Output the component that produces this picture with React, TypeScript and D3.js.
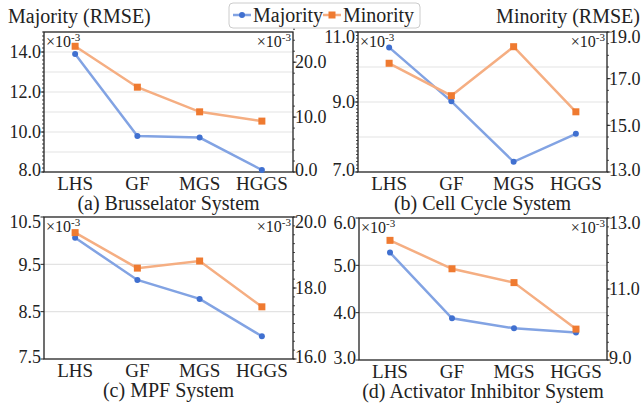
import React from "react";
import * as d3 from "d3";

const categories = ["LHS", "GF", "MGS", "HGGS"];

const brusselatorMajority = [13.9, 9.8, 9.72, 8.1];
const brusselatorMinority = [22.9, 15.45, 10.96, 9.27];
const cellCycleMajority = [10.56, 9.02, 7.29, 8.09];
const cellCycleMinority = [17.66, 16.27, 18.37, 15.58];
const mpfMajority = [10.06, 9.17, 8.77, 7.98];
const mpfMinority = [19.56, 18.56, 18.76, 17.47];
const activatorMajority = [5.27, 3.88, 3.67, 3.58];
const activatorMinority = [12.37, 11.57, 11.18, 9.87];

const brusselatorLeftTicks = [8, 10, 12, 14];
const brusselatorRightTicks = [0, 10, 20];
const brusselatorGrid = [9, 10, 11, 12, 13, 14];
const cellCycleLeftTicks = [7, 9, 11];
const cellCycleRightTicks = [13, 15, 17, 19];
const cellCycleGrid = [8, 9, 10];
const mpfLeftTicks = [7.5, 8.5, 9.5, 10.5];
const mpfRightTicks = [16, 18, 20];
const mpfGrid = [8.5, 9.5];
const activatorLeftTicks = [3, 4, 5, 6];
const activatorRightTicks = [9, 11, 13];
const activatorGrid = [4, 5];

const captions = [
  "(a) Brusselator System",
  "(b) Cell Cycle System",
  "(c) MPF System",
  "(d) Activator Inhibitor System",
];

const FONT = "Liberation Serif";
const BLUE_LINE = "#82a3e3";
const BLUE_MARK = "#4070d0";
const ORANGE_LINE = "#f5ae82";
const ORANGE_MARK = "#ef7a30";

type Panel = {
  caption: string;
  box: [number, number, number, number];
  leftDomain: [number, number];
  rightDomain: [number, number];
  leftTicks: number[];
  rightTicks: number[];
  grid: number[];
  leftMinor: number | null;
  rightMinor: number;
  majority: number[];
  minority: number[];
};

const panels: Panel[] = [
  {
    caption: captions[0],
    box: [44, 293, 32, 172],
    leftDomain: [8, 15],
    rightDomain: [0, 25.5],
    leftTicks: brusselatorLeftTicks,
    rightTicks: brusselatorRightTicks,
    grid: brusselatorGrid,
    leftMinor: 0.2,
    rightMinor: 2,
    majority: brusselatorMajority,
    minority: brusselatorMinority,
  },
  {
    caption: captions[1],
    box: [358, 607, 32, 172],
    leftDomain: [7, 11],
    rightDomain: [13, 19],
    leftTicks: cellCycleLeftTicks,
    rightTicks: cellCycleRightTicks,
    grid: cellCycleGrid,
    leftMinor: 0.1,
    rightMinor: 0.5,
    majority: cellCycleMajority,
    minority: cellCycleMinority,
  },
  {
    caption: captions[2],
    box: [44, 293, 217, 359],
    leftDomain: [7.5, 10.5],
    rightDomain: [16, 20],
    leftTicks: mpfLeftTicks,
    rightTicks: mpfRightTicks,
    grid: mpfGrid,
    leftMinor: null,
    rightMinor: 0.25,
    majority: mpfMajority,
    minority: mpfMinority,
  },
  {
    caption: captions[3],
    box: [359, 607, 218, 360],
    leftDomain: [3, 6],
    rightDomain: [9, 13],
    leftTicks: activatorLeftTicks,
    rightTicks: activatorRightTicks,
    grid: activatorGrid,
    leftMinor: null,
    rightMinor: 0.25,
    majority: activatorMajority,
    minority: activatorMinority,
  },
];

function minorTicks(domain: [number, number], step: number): number[] {
  const out: number[] = [];
  const n = Math.round((domain[1] - domain[0]) / step);
  for (let i = 0; i <= n; i++) out.push(domain[0] + i * step);
  return out;
}

function labelShift(t: number, domain: [number, number]): number {
  if (Math.abs(t - domain[1]) < 1e-9) return 5;
  if (Math.abs(t - domain[0]) < 1e-9) return -2.5;
  return 0;
}

function Sci({ x, y, anchor }: { x: number; y: number; anchor: "start" | "end" }) {
  return (
    <text x={x} y={y} textAnchor={anchor} fontFamily={FONT} fontSize={16} fill="#222">
      ×10
      <tspan fontSize={11} dy={-6}>-3</tspan>
    </text>
  );
}

function PanelView({ p }: { p: Panel }) {
  const [x0, x1, y0, y1] = p.box;
  const x = d3.scalePoint<string>().domain(categories).range([x0, x1]).padding(0.5);
  const yL = d3.scaleLinear().domain(p.leftDomain).range([y1, y0]);
  const yR = d3.scaleLinear().domain(p.rightDomain).range([y1, y0]);
  const lineL = d3
    .line<number>()
    .x((_, i) => x(categories[i]) as number)
    .y((d) => yL(d));
  const lineR = d3
    .line<number>()
    .x((_, i) => x(categories[i]) as number)
    .y((d) => yR(d));
  const fmt = d3.format(".1f");
  return (
    <g>
      {p.grid.map((g) => (
        <line key={"g" + g} x1={x0} x2={x1} y1={yL(g)} y2={yL(g)} stroke="#e3e3e3" strokeWidth={1.2} />
      ))}
      {p.leftMinor !== null &&
        minorTicks(p.leftDomain, p.leftMinor).map((t, i) => (
          <line key={"lm" + i} x1={x0 - 2} x2={x0} y1={yL(t)} y2={yL(t)} stroke="#222" strokeWidth={0.8} />
        ))}
      {minorTicks(p.rightDomain, p.rightMinor).map((t, i) => (
        <line key={"rm" + i} x1={x1} x2={x1 + 2} y1={yR(t)} y2={yR(t)} stroke="#222" strokeWidth={0.8} />
      ))}
      {p.leftTicks.map((t) => (
        <g key={"lt" + t}>
          <line x1={x0 - 3.5} x2={x0} y1={yL(t)} y2={yL(t)} stroke="#222" strokeWidth={1} />
          <text
            x={x0 - 3}
            y={yL(t) + labelShift(t, p.leftDomain)}
            dy="0.35em"
            textAnchor="end"
            fontFamily={FONT}
            fontSize={18}
            fill="#222"
          >
            {fmt(t)}
          </text>
        </g>
      ))}
      {p.rightTicks.map((t) => (
        <g key={"rt" + t}>
          <line x1={x1} x2={x1 + 3.5} y1={yR(t)} y2={yR(t)} stroke="#222" strokeWidth={1} />
          <text
            x={x1 + 2}
            y={yR(t) + labelShift(t, p.rightDomain)}
            dy="0.35em"
            textAnchor="start"
            fontFamily={FONT}
            fontSize={18}
            fill="#222"
          >
            {fmt(t)}
          </text>
        </g>
      ))}
      <rect x={x0} y={y0} width={x1 - x0} height={y1 - y0} fill="none" stroke="#222" strokeWidth={1.3} />
      <path d={lineL(p.majority) || ""} fill="none" stroke={BLUE_LINE} strokeWidth={2.5} />
      <path d={lineR(p.minority) || ""} fill="none" stroke={ORANGE_LINE} strokeWidth={2.5} />
      {p.majority.map((v, i) => (
        <circle key={"m" + i} cx={x(categories[i])} cy={yL(v)} r={3} fill={BLUE_MARK} />
      ))}
      {p.minority.map((v, i) => (
        <rect key={"n" + i} x={(x(categories[i]) as number) - 3.5} y={yR(v) - 3.5} width={7} height={7} fill={ORANGE_MARK} />
      ))}
      {categories.map((c) => (
        <text key={"c" + c} x={x(c)} y={y1 + 18} textAnchor="middle" fontFamily={FONT} fontSize={19} fill="#222">
          {c}
        </text>
      ))}
      <text x={(x0 + x1) / 2} y={y1 + 38} textAnchor="middle" fontFamily={FONT} fontSize={20} fill="#222">
        {p.caption}
      </text>
      <Sci x={x0 + 2} y={y0 + 15} anchor="start" />
      <Sci x={x1 - 2} y={y0 + 15} anchor="end" />
    </g>
  );
}

export default function App() {
  return (
    <svg
      width={642}
      height={408}
      fontFamily={FONT}
      style={{ position: "absolute", left: 0, top: 0, fontFamily: '"Liberation Serif"' }}
    >
      <rect width={642} height={408} fill="#fff" />
      <text x={8} y={23} fontFamily={FONT} fontSize={20} fill="#222">
        Majority (RMSE)
      </text>
      <text x={640} y={23} textAnchor="end" fontFamily={FONT} fontSize={20} fill="#222">
        Minority (RMSE)
      </text>
      <g>
        <rect x={229} y={3} width={191} height={25} rx={4} fill="#fff" stroke="#ccc" strokeWidth={1} />
        <line x1={233} x2={251} y1={15} y2={15} stroke={BLUE_LINE} strokeWidth={2.5} />
        <circle cx={242} cy={15} r={3} fill={BLUE_MARK} />
        <text x={253} y={22} fontFamily={FONT} fontSize={20} fill="#222">Majority</text>
        <line x1={323} x2={341} y1={15} y2={15} stroke={ORANGE_LINE} strokeWidth={2.5} />
        <rect x={328.5} y={11.5} width={7} height={7} fill={ORANGE_MARK} />
        <text x={343} y={22} fontFamily={FONT} fontSize={20} fill="#222">Minority</text>
      </g>
      {panels.map((p, i) => (
        <PanelView key={i} p={p} />
      ))}
    </svg>
  );
}
